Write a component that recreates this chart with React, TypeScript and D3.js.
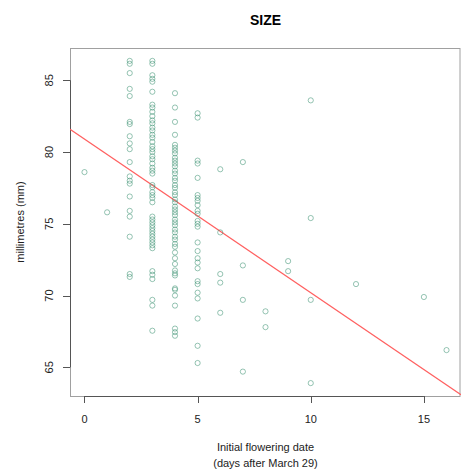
import React from "react";
import * as d3 from "d3";

// Initial flowering date (days after March 29) for each group of plants
const days = [0, 1, 2, 3, 4, 5, 6, 7, 8, 9, 10, 12, 15, 16];

// Flower size (mm) of the plants in each day group
const sizeDay0 = [78.6];
const sizeDay1 = [75.8];
const sizeDay2 = [86.35, 86.15, 85.5, 84.4, 83.9, 82.1, 81.95, 81.1, 80.6, 80.2, 79.3, 78.3, 78.0, 77.8, 76.9, 75.9, 75.5, 74.1, 71.5, 71.3];
const sizeDay3 = [86.35, 86.15, 85.35, 85.1, 84.9, 84.2, 83.3, 83.1, 82.8, 82.5, 82.2, 82.0, 81.7, 81.5, 81.2, 81.0, 80.7, 80.4, 80.2, 80.0, 79.7, 79.5, 79.2, 78.9, 78.7, 78.5, 77.7, 77.55, 77.2, 77.0, 76.8, 76.5, 75.5, 75.3, 75.1, 74.9, 74.7, 74.5, 74.3, 74.1, 73.9, 73.7, 73.5, 73.3, 71.7, 71.45, 71.15, 69.7, 69.3, 67.55];
const sizeDay4 = [84.1, 83.1, 82.1, 81.2, 80.5, 80.3, 80.1, 79.9, 79.6, 79.4, 79.2, 79.0, 78.7, 78.5, 78.2, 78.0, 77.7, 77.5, 77.2, 77.0, 76.7, 76.5, 76.2, 76.0, 75.8, 75.6, 75.3, 75.1, 74.9, 74.6, 74.4, 74.1, 73.9, 73.6, 73.4, 73.0, 72.6, 72.2, 71.75, 71.55, 71.4, 70.5, 70.4, 70.0, 69.3, 67.7, 67.45, 67.2];
const sizeDay5 = [82.7, 82.4, 79.4, 79.2, 78.2, 77.0, 76.8, 76.6, 76.3, 75.9, 75.7, 75.2, 75.0, 74.8, 73.7, 73.1, 72.6, 72.3, 71.9, 71.0, 70.8, 70.2, 69.8, 68.4, 66.5, 65.3];
const sizeDay6 = [78.8, 74.4, 71.5, 70.9, 68.8];
const sizeDay7 = [79.3, 72.1, 69.7, 64.7];
const sizeDay8 = [68.9, 67.8];
const sizeDay9 = [72.4, 71.7];
const sizeDay10 = [83.6, 75.4, 69.7, 63.9];
const sizeDay12 = [70.8];
const sizeDay15 = [69.9];
const sizeDay16 = [66.2];
const sizesByDay = [sizeDay0, sizeDay1, sizeDay2, sizeDay3, sizeDay4, sizeDay5, sizeDay6, sizeDay7, sizeDay8, sizeDay9, sizeDay10, sizeDay12, sizeDay15, sizeDay16];

// Fitted regression line (size = intercept + slope * day)
const fitIntercept = 80.9;
const fitSlope = -1.07;

const xTicks = [0, 5, 10, 15];
const yTicks = [65, 70, 75, 80, 85];

const W = 461;
const H = 471;
const plot = { left: 70, right: 461, top: 48, bottom: 396 };

export default function App() {
  const points = days.flatMap((d, i) => sizesByDay[i].map((s) => ({ d, s })));
  const xMin = d3.min(points, (p) => p.d)!;
  const xMax = d3.max(points, (p) => p.d)!;
  const yMin = d3.min(points, (p) => p.s)!;
  const yMax = d3.max(points, (p) => p.s)!;
  const xPad = (xMax - xMin) * 0.04;
  const yPad = (yMax - yMin) * 0.04;
  const x = d3.scaleLinear().domain([xMin - xPad, xMax + xPad]).range([plot.left, plot.right]);
  const y = d3.scaleLinear().domain([yMin - yPad, yMax + yPad]).range([plot.bottom, plot.top]);
  const [x0, x1] = x.domain();
  const line = d3.line<number>().x((d) => x(d)).y((d) => y(fitIntercept + fitSlope * d));
  const font = "'Liberation Sans', Arial, Helvetica, sans-serif";
  const cx = (plot.left + plot.right) / 2;
  const cy = (plot.top + plot.bottom) / 2;

  return (
    <svg width={W} height={H} style={{ position: "absolute", left: 0, top: 0, background: "#fff" }} fontFamily={font}>
      <rect x={0} y={0} width={W} height={H} fill="#fff" />
      <text x={cx} y={25} textAnchor="middle" fontSize={14} fontWeight="bold" fill="#000">SIZE</text>
      <defs>
        <clipPath id="plotclip">
          <rect x={plot.left} y={plot.top} width={plot.right - plot.left} height={plot.bottom - plot.top} />
        </clipPath>
      </defs>
      {/* box */}
      <rect x={plot.left + 0.5} y={plot.top + 0.5} width={plot.right - plot.left - 1.5} height={plot.bottom - plot.top} fill="none" stroke="#a0a0a0" strokeWidth={1} />
      {/* axes */}
      <line x1={plot.left + 0.5} x2={plot.left + 0.5} y1={y(yTicks[0])} y2={y(yTicks[yTicks.length - 1])} stroke="#555" />
      <line x1={x(xTicks[0])} x2={x(xTicks[xTicks.length - 1])} y1={plot.bottom + 0.5} y2={plot.bottom + 0.5} stroke="#555" />
      {yTicks.map((t) => (
        <g key={"y" + t}>
          <line x1={plot.left - 7} x2={plot.left} y1={Math.round(y(t)) + 0.5} y2={Math.round(y(t)) + 0.5} stroke="#555" />
          <text transform={`translate(${plot.left - 17},${y(t)}) rotate(-90)`} textAnchor="middle" fontSize={11} fill="#222">{t}</text>
        </g>
      ))}
      {xTicks.map((t) => (
        <g key={"x" + t}>
          <line x1={Math.round(x(t)) + 0.5} x2={Math.round(x(t)) + 0.5} y1={plot.bottom} y2={plot.bottom + 7} stroke="#555" />
          <text x={x(t)} y={423} textAnchor="middle" fontSize={11} fill="#222">{t}</text>
        </g>
      ))}
      <text x={cx} y={451} textAnchor="middle" fontSize={11} fill="#222">Initial flowering date</text>
      <text x={cx} y={467} textAnchor="middle" fontSize={11} fill="#222">(days after March 29)</text>
      <text transform={`translate(24,${cy}) rotate(-90)`} textAnchor="middle" fontSize={11} fill="#222">millimetres (mm)</text>
      <g clipPath="url(#plotclip)">
        <path d={line([x0, x1]) ?? ""} fill="none" stroke="#ff6060" strokeWidth={1.3} />
      </g>
      <g>
        {points.map((p, i) => (
          <circle key={i} cx={x(p.d)} cy={y(p.s)} r={2.6} fill="none" stroke="#3f9474" strokeOpacity={0.55} strokeWidth={1} />
        ))}
      </g>
    </svg>
  );
}
